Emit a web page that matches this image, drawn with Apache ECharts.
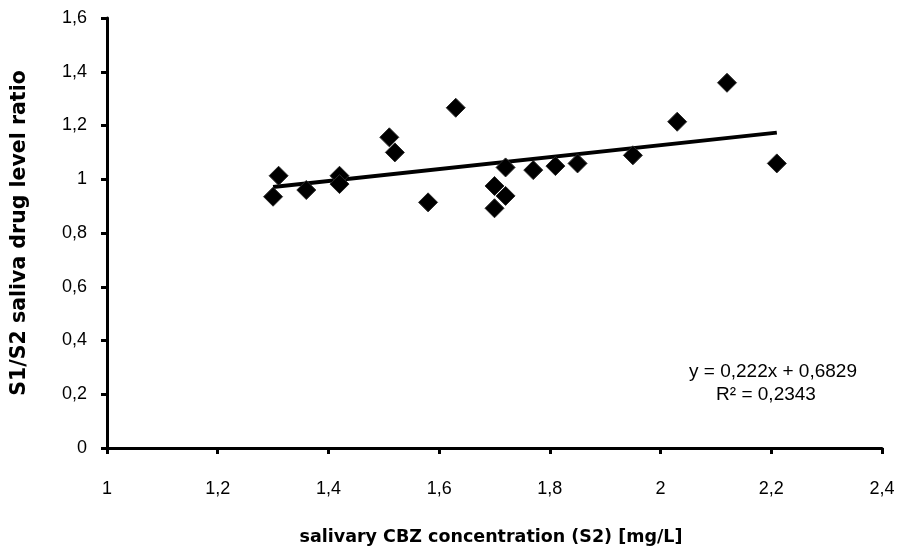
<!DOCTYPE html>
<html><head><meta charset="utf-8">
<script src="https://cdn.jsdelivr.net/npm/echarts@6/dist/echarts.min.js"></script>
<style>html,body{margin:0;padding:0;background:#fff}#c{width:901px;height:552px}</style>
</head><body><div id="c"></div>
<script>
const xValues = [1.30, 1.31, 1.36, 1.42, 1.42, 1.51, 1.52, 1.58, 1.63, 1.70, 1.70, 1.72, 1.72, 1.77, 1.81, 1.85, 1.95, 2.03, 2.12, 2.21];
const yValues = [0.935, 1.013, 0.960, 1.013, 0.982, 1.156, 1.100, 0.914, 1.266, 0.975, 0.892, 1.044, 0.938, 1.034, 1.049, 1.059, 1.089, 1.214, 1.359, 1.059];
const trendSlope = 0.222;
const trendIntercept = 0.6829;
const trendText = ['y = 0,222x + 0,6829', 'R² = 0,2343'];
const xTitle = 'salivary CBZ concentration (S2) [mg/L]';
const yTitle = 'S1/S2 saliva drug level ratio';

const pts = xValues.map((x, i) => [x, yValues[i]]);
const xmin = Math.min(...xValues), xmax = Math.max(...xValues);
const trend = [[xmin, trendSlope * xmin + trendIntercept], [xmax, trendSlope * xmax + trendIntercept]];
const fmt = v => String(Math.round(v * 10) / 10).replace('.', ',');
const sans = '"Liberation Sans", Arial, sans-serif';

const chart = echarts.init(document.getElementById('c'), null, {renderer: 'canvas'});
chart.setOption({
  animation: false,
  backgroundColor: '#fff',
  grid: {left: 107, top: 18, right: 19, bottom: 104, containLabel: false},
  xAxis: {
    type: 'value', min: 1, max: 2.4, interval: 0.2,
    splitLine: {show: false},
    axisLine: {onZero: false, lineStyle: {color: '#000', width: 3}},
    axisTick: {show: true, length: 6, lineStyle: {color: '#000', width: 3}},
    axisLabel: {formatter: fmt, color: '#000', fontFamily: sans, fontSize: 18, margin: 32}
  },
  yAxis: {
    type: 'value', min: 0, max: 1.6, interval: 0.2,
    splitLine: {show: false},
    axisLine: {onZero: false, lineStyle: {color: '#000', width: 3}},
    axisTick: {show: true, length: 6, lineStyle: {color: '#000', width: 3}},
    axisLabel: {formatter: fmt, color: '#000', fontFamily: sans, fontSize: 18, margin: 20}
  },
  series: [
    {
      type: 'line', data: trend, symbol: 'none', z: 2,
      lineStyle: {color: '#000', width: 4}
    },
    {
      type: 'scatter', data: pts, symbol: 'diamond', symbolSize: 19, z: 3,
      itemStyle: {color: '#000', borderColor: '#2a2a2a', borderWidth: 1, opacity: 1}
    }
  ],
  graphic: [
    {type: 'text', x: 491, y: 537, style: {text: xTitle, font: 'bold 17.5px "DejaVu Sans"', fill: '#000', align: 'center', verticalAlign: 'middle'}},
    {type: 'text', x: 20, y: 233, rotation: Math.PI / 2, style: {text: yTitle, font: 'bold 20.5px "DejaVu Sans"', fill: '#000', align: 'center', verticalAlign: 'middle'}},
    {type: 'text', x: 773, y: 372, style: {text: trendText[0], font: '19px ' + sans, fill: '#000', align: 'center', verticalAlign: 'middle'}},
    {type: 'text', x: 766, y: 395, style: {text: trendText[1], font: '19px ' + sans, fill: '#000', align: 'center', verticalAlign: 'middle'}}
  ]
});
</script></body></html>
